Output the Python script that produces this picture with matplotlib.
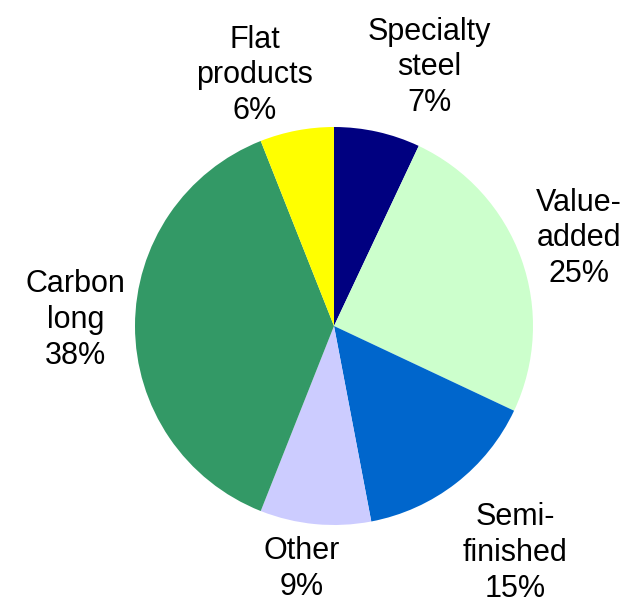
import matplotlib
matplotlib.use("Agg")
import matplotlib.pyplot as plt

# Product mix shares (percent), clockwise from 12 o'clock
categories = ["Specialty\nsteel", "Value-\nadded", "Semi-\nfinished", "Other", "Carbon\nlong", "Flat\nproducts"]
shares = [7, 25, 15, 9, 38, 6]
colors = ["#000080", "#CCFFCC", "#0066CC", "#CCCCFF", "#339966", "#FFFF00"]

# Label anchor points in units of the pie radius
label_pos = [(0.48, 1.30), (1.23, 0.44), (0.91, -1.14), (-0.16, -1.22), (-1.30, 0.03), (-0.40, 1.26)]

plt.rcParams["font.family"] = ["Liberation Sans", "DejaVu Sans"]

fig = plt.figure(figsize=(6.23, 6.06), dpi=100)
w, h = 398 / 623, 398 / 606
cx, cy = 334 / 623, 1 - 326 / 606
ax = fig.add_axes([cx - w / 2, cy - h / 2, w, h])

ax.pie(shares, colors=colors, startangle=90, counterclock=False, radius=1,
       wedgeprops=dict(linewidth=0))
ax.set_xlim(-1, 1)
ax.set_ylim(-1, 1)
ax.set_aspect("equal")

for name, val, (x, y) in zip(categories, shares, label_pos):
    ax.text(x, y, f"{name}\n{val}%", ha="center", va="center", fontsize=22,
            linespacing=1.25, clip_on=False)

ax.axis("off")
fig.savefig("out.png", dpi=100)
